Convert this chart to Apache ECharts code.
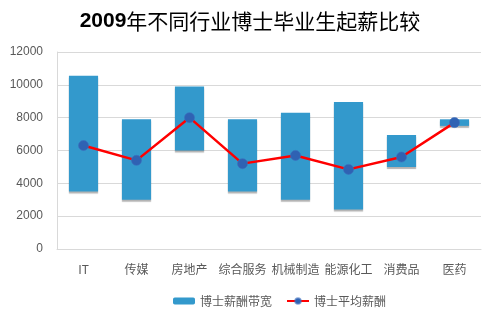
<!DOCTYPE html>
<html><head><meta charset="utf-8">
<script src="https://cdn.jsdelivr.net/npm/echarts@6/dist/echarts.min.js"></script>
<style>html,body{margin:0;padding:0;background:#fff}#c{width:500px;height:318px}</style>
</head><body><div id="c"></div>
<script>
const categories = ['IT','传媒','房地产','综合服务','机械制造','能源化工','消费品','医药'];
const lowValues = [3500,3000,6000,3500,3000,2400,5000,7500];
const highValues = [10550,7900,9900,7900,8300,8950,6950,7900];
const avgValues = [6300,5400,8000,5200,5700,4850,5600,7700];
const yTicks = [0,2000,4000,6000,8000,10000,12000];

const bandValues = highValues.map((h,i)=>h-lowValues[i]);
const chart = echarts.init(document.getElementById('c'));
const font = '"Noto Sans CJK SC", "Liberation Sans", sans-serif';
chart.setOption({
  animation:false,
  title:{
    text:'{a|2009}{b|年不同行业博士毕业生起薪比较}',
    left:'center', top:6,
    textStyle:{rich:{
      a:{fontSize:21,fontWeight:'bold',color:'#000',fontFamily:'"Liberation Sans", sans-serif'},
      b:{fontSize:21,fontWeight:'normal',color:'#000',fontFamily:font}
    }}
  },
  legend:{
    data:[{name:'博士薪酬带宽',itemStyle:{borderWidth:0,shadowBlur:0,shadowOffsetY:0}},'博士平均薪酬'],
    bottom:6, left:168,
    itemGap:14,
    textStyle:{fontFamily:font,fontSize:12,color:'#595959'},
    itemWidth:22,itemHeight:7
  },
  grid:{left:57,right:19,top:52,bottom:69},
  xAxis:{
    type:'category',data:categories,
    axisLine:{lineStyle:{color:'#D9D9D9'}},
    axisTick:{show:false},
    axisLabel:{color:'#595959',fontSize:12,fontFamily:font,margin:14,interval:0}
  },
  yAxis:{
    type:'value',min:yTicks[0],max:yTicks[yTicks.length-1],interval:2000,
    axisLine:{show:true,lineStyle:{color:'#D9D9D9'}},
    axisTick:{show:false},
    splitLine:{lineStyle:{color:'#D9D9D9'}},
    axisLabel:{color:'#595959',fontSize:12,fontFamily:'"Liberation Sans", sans-serif',margin:14,
      formatter:v=>String(v)}
  },
  series:[
    {name:'base',type:'bar',stack:'s',data:lowValues,barWidth:'55%',
     itemStyle:{color:'transparent'},silent:true},
    {name:'博士薪酬带宽',type:'bar',stack:'s',data:bandValues,barWidth:'55%',
     itemStyle:{color:'#3399CC',
       shadowColor:'rgba(0,0,0,0.3)',shadowBlur:1,shadowOffsetY:2}},
    {name:'博士平均薪酬',type:'line',data:avgValues,
     lineStyle:{color:'#FF0000',width:2.5},
     symbol:'circle',symbolSize:10,
     itemStyle:{color:'#2F62B3',borderColor:'rgba(60,110,190,0.6)',borderWidth:1}}
  ]
});
</script></body></html>
